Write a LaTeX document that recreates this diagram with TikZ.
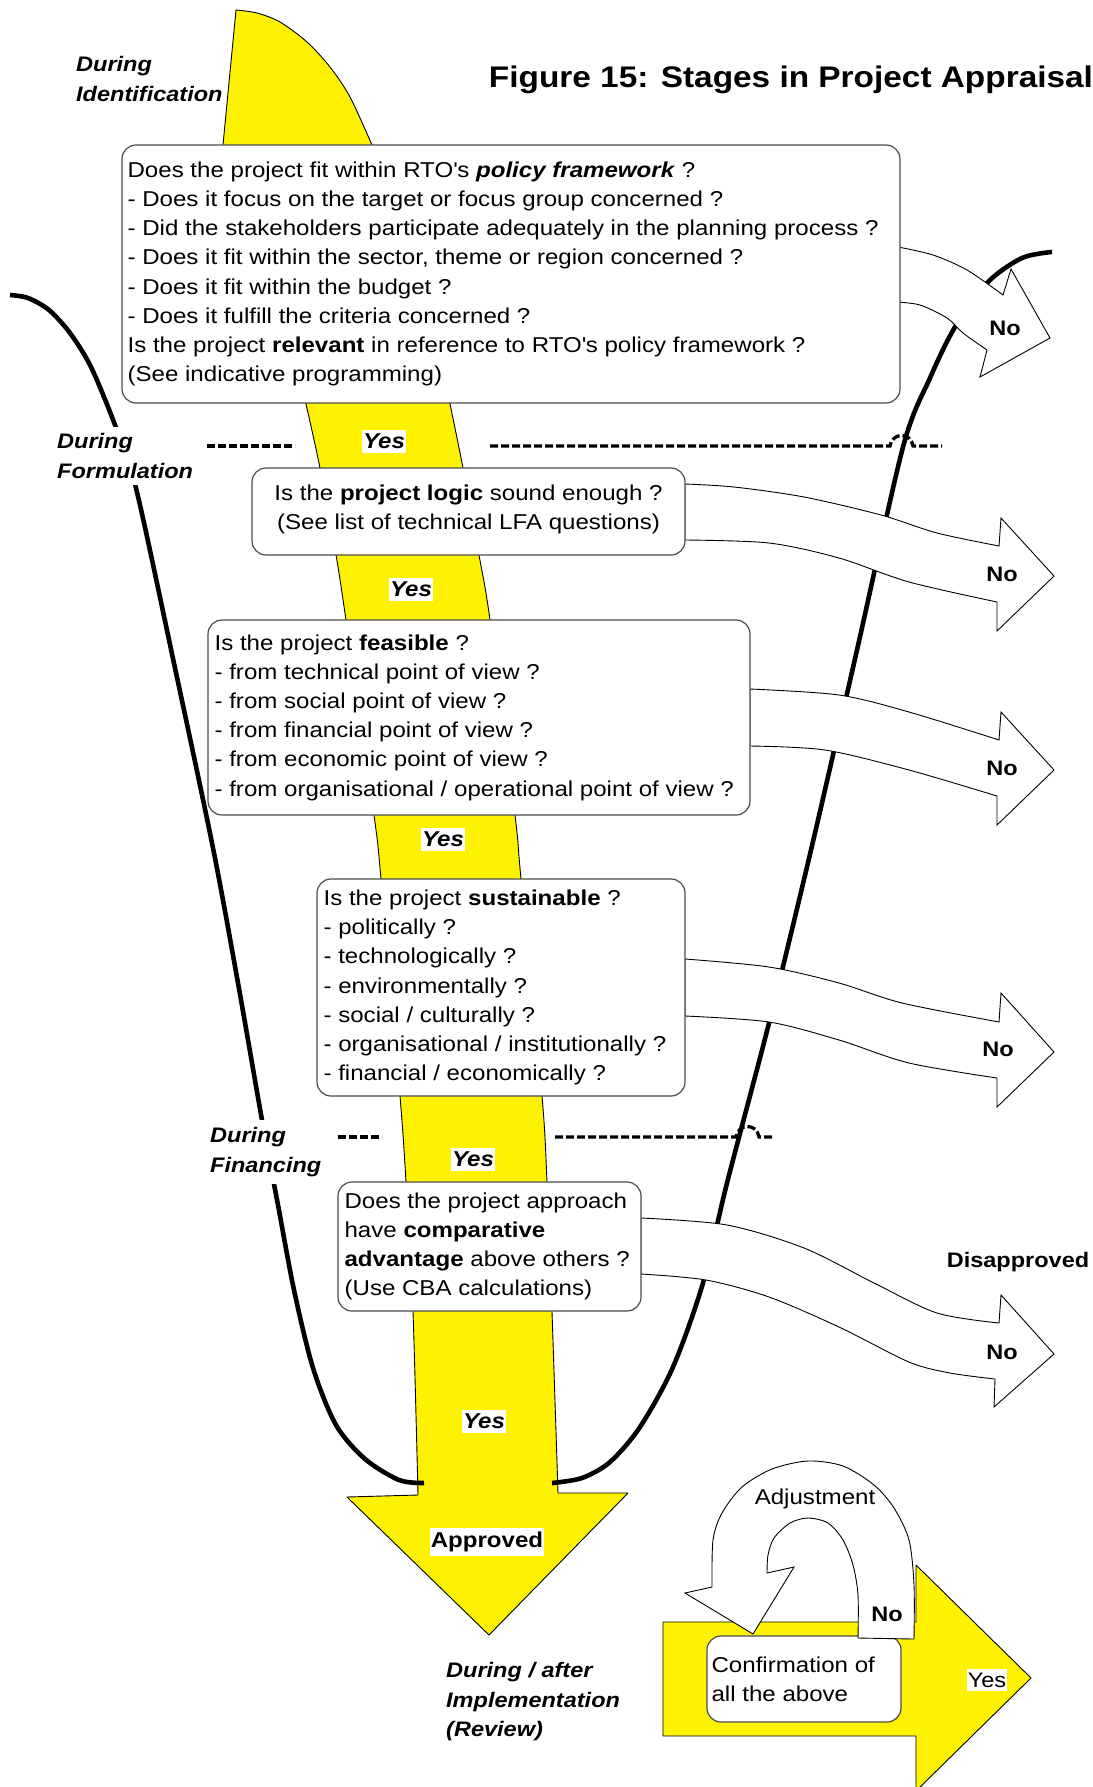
\documentclass[tikz,border=0pt]{standalone}
\usepackage{fontspec}
\setmainfont{Liberation Sans}[FakeStretch=1.12]
\begin{document}
\begin{tikzpicture}[x=1pt, y=-1pt,
  bigband/.style={fill=yellow, draw=black, line width=0.9pt, line join=round},
  noarrow/.style={fill=white, draw=black, line width=0.9pt},
  curve/.style={line width=4.6pt},
  divider/.style={line width=3.3pt, dash pattern=on 8pt off 3pt},
  qbox/.style={draw=black!70, line width=1.2pt, rounded corners=14pt, fill=white, inner sep=0pt},
  qtext/.style={font=\fontsize{21.5}{29.2}\selectfont, align=left, inner sep=0pt},
  yeslbl/.style={fill=white, inner xsep=1pt, inner ysep=4pt, font=\fontsize{21.5}{25}\selectfont\bfseries\itshape},
  nolbl/.style={font=\fontsize{21}{25}\selectfont\bfseries, inner sep=0pt},
  stagelbl/.style={font=\fontsize{21}{29.5}\selectfont\bfseries\itshape, align=left, inner xsep=2pt, inner ysep=7pt},
]
\useasboundingbox (0,0) rectangle (1092,1787);

% main yellow flow band, from the rounded tail down to the arrow head
\filldraw[bigband] (223,145) -- (236,10)
  -- plot[smooth] coordinates {(236,10) (257,13) (280,22) (307,42) (330,67) (350,97) (372,145)}
  -- (450,404)
  -- plot[smooth] coordinates {(450,404) (463,468) (479,555) (490,620) (515,815) (521,879) (542,1096) (547,1182) (552,1312) (558,1493)}
  -- (628,1493) -- (489,1635) -- (347,1497)
  -- plot[smooth] coordinates {(418,1495) (413,1312) (406,1182) (400,1096) (381,879) (374,815) (346,620) (336,555) (320,468) (306,404)}
  -- cycle;

% the funnel outline
\draw[curve] plot[smooth] coordinates {(10,295) (28,298) (49,310) (70,333) (91,367) (115,425) (136,488) (175,668) (213,848) (238,983) (262,1120) (278,1205) (294,1290) (313,1368) (336,1425) (365,1459) (399,1480) (424,1483)};
\draw[curve] plot[smooth] coordinates {(1052,252) (1022,258) (988,282) (955,327) (930,378) (903,447) (857,650) (811,850) (769,1023) (727,1183) (703,1283) (673,1367) (640,1427) (610,1462) (582,1478) (552,1483)};

% stage separators
\draw[divider] (207,446) -- (295,446);
\draw[divider] (490,446) -- (890,446) .. controls (892,432) and (911,432) .. (913,446) -- (942,446);
\draw[divider] (338,1137) -- (382,1137);
\draw[divider] (555,1137) -- (736,1137) .. controls (738,1123) and (757,1123) .. (759,1137) -- (773,1137);

% rejection arrows
\draw[noarrow] plot[smooth] coordinates {(898,247) (933,255) (967,270) (1003,295)}
  -- (1011,269) -- (1050,338) -- (980,377)
  -- plot[smooth] coordinates {(987,350) (963,333) (947,318) (920,305) (896,302)} -- cycle;
\draw[noarrow] plot[smooth] coordinates {(685,484) (734,487) (804,497) (881,515) (937,533) (999,546)}
  -- (1001,518) -- (1054,576) -- (997,631)
  -- plot[smooth] coordinates {(997,602) (909,582) (839,558) (769,543) (685,540)} -- cycle;
\draw[noarrow] plot[smooth] coordinates {(750,689) (839,695) (909,712) (999,740)}
  -- (1001,712) -- (1054,770) -- (997,825)
  -- plot[smooth] coordinates {(997,796) (909,770) (825,750) (750,746)} -- cycle;
\draw[noarrow] plot[smooth] coordinates {(685,959) (769,967) (839,983) (902,1003) (999,1022)}
  -- (1001,993) -- (1054,1052) -- (997,1107)
  -- plot[smooth] coordinates {(997,1078) (909,1063) (839,1040) (769,1022) (685,1016)} -- cycle;
\draw[noarrow] plot[smooth] coordinates {(641,1218) (727,1225) (804,1248) (874,1283) (937,1313) (999,1323)}
  -- (1001,1295) -- (1054,1354) -- (994,1407)
  -- plot[smooth] coordinates {(995,1379) (950,1373) (909,1362) (839,1327) (769,1297) (706,1280) (641,1274)} -- cycle;

% question boxes
\node[qbox, minimum width=778pt, minimum height=258pt] (q1) at (511,274) {};
\node[qtext, anchor=west] (q1t) at ([xshift=6pt]q1.west) {Does the project fit within RTO\textquotesingle s \textbf{\textit{policy framework}} ?\\
- Does it focus on the target or focus group concerned ?\\
- Did the stakeholders participate adequately in the planning process ?\\
- Does it fit within the sector, theme or region concerned ?\\
- Does it fit within the budget ?\\
- Does it fulfill the criteria concerned ?\\
Is the project \textbf{relevant} in reference to RTO\textquotesingle s policy framework ?\\
(See indicative programming)};

\node[qbox, minimum width=433pt, minimum height=87pt] (q2) at (468.5,511.5) {};
\node[qtext, align=center] (q2t) at ([yshift=2pt]q2.center) {Is the \textbf{project logic} sound enough ?\\(See list of technical LFA questions)};

\node[qbox, minimum width=542pt, minimum height=195pt] (q3) at (479,717.5) {};
\node[qtext, anchor=west] (q3t) at ([xshift=7pt]q3.west) {Is the project \textbf{feasible} ?\\
- from technical point of view ?\\
- from social point of view ?\\
- from financial point of view ?\\
- from economic point of view ?\\
- from organisational / operational point of view ?};

\node[qbox, minimum width=368pt, minimum height=217pt] (q4) at (501,987.5) {};
\node[qtext, anchor=west] (q4t) at ([xshift=7pt]q4.west) {Is the project \textbf{sustainable} ?\\
- politically ?\\
- technologically ?\\
- environmentally ?\\
- social / culturally ?\\
- organisational / institutionally ?\\
- financial / economically ?};

\node[qbox, minimum width=303pt, minimum height=129pt] (q5) at (489.5,1246.5) {};
\node[qtext, anchor=west] (q5t) at ([xshift=7pt]q5.west) {Does the project approach\\
have \textbf{comparative}\\
\textbf{advantage} above others ?\\
(Use CBA calculations)};

% answers along the main flow
\node[yeslbl] (y1) at (384,441) {Yes};
\node[yeslbl] (y2) at (411,589) {Yes};
\node[yeslbl] (y3) at (443,839) {Yes};
\node[yeslbl] (y4) at (473,1159) {Yes};
\node[yeslbl] (y5) at (484,1421) {Yes};
\node[yeslbl, font=\fontsize{21.5}{25}\selectfont\bfseries] (appr) at (487,1542) {Approved};

\node[nolbl] (n1) at (1005,328) {No};
\node[nolbl] (n2) at (1002,574) {No};
\node[nolbl] (n3) at (1002,768) {No};
\node[nolbl] (n4) at (998,1049) {No};
\node[nolbl] (n5) at (1002,1352) {No};
\node[nolbl] (disap) at (1018,1262) {Disapproved};

% stage names
\node[stagelbl, inner ysep=0pt, anchor=west] (sIdent) at (74,79) {During\\Identification};
\node[stagelbl, fill=white, anchor=west] (sForm) at (55,456) {During\\Formulation};
\node[stagelbl, fill=white, anchor=west] (sFin) at (208,1152) {During\\Financing};
\node[stagelbl, inner ysep=0pt, anchor=west] (sImpl) at (444,1702) {During / after\\Implementation\\(Review)};

% title
\node[font=\fontsize{29.8}{34}\selectfont\bfseries, inner sep=0pt] (title) at (791,80) {Figure 15: Stages in Project Appraisal};

% review loop
\filldraw[bigband] (663,1622) -- (916,1622) -- (916,1565) -- (1031,1678) -- (916,1791) -- (916,1736) -- (663,1736) -- cycle;
\node[qbox, minimum width=194pt, minimum height=86pt] (conf) at (804,1679) {};
\node[qtext, anchor=west] (conft) at ([xshift=5pt]conf.west) {Confirmation of\\all the above};
\draw[noarrow] plot[smooth] coordinates {(914,1639) (914,1585) (909,1540) (894,1508) (874,1485) (843,1466) (808,1461) (772,1469) (742,1487) (722,1513) (713,1540) (712,1587)}
  -- (685,1593) -- (753,1634) -- (794,1567)
  -- plot[smooth] coordinates {(767,1573) (768,1555) (774,1538) (790,1523) (808,1518) (828,1523) (843,1540) (853,1565) (858,1595) (858,1638)} -- cycle;
\node[qtext, align=center] (adj) at (815,1499) {Adjustment};
\node[nolbl] (n6) at (887,1614) {No};
\node[fill=white, inner xsep=1pt, inner ysep=4pt, font=\fontsize{21}{25}\selectfont] (y6) at (987,1680) {Yes};
\end{tikzpicture}
\end{document}
